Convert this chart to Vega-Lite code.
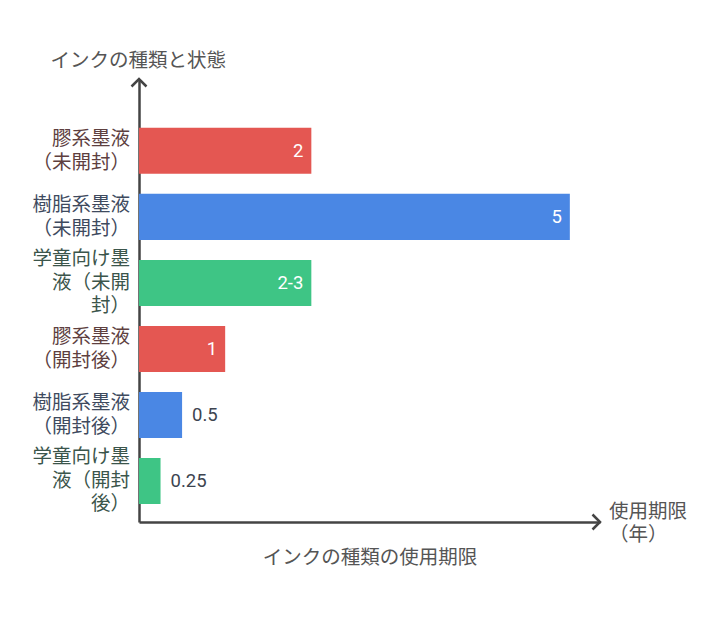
{
  "$schema": "https://vega.github.io/schema/vega-lite/v6.json",
  "width": 461,
  "height": 443,
  "autosize": {"type": "none"},
  "padding": {"left": 139, "top": 79, "right": 116, "bottom": 98},
  "background": "white",
  "config": {"view": {"stroke": null}, "font": "Roboto, 'Noto Sans CJK JP', sans-serif"},
  "data": {"values": [
    {"label": "膠系墨液\n（未開封）", "type": "膠", "value": 2, "disp": "2"},
    {"label": "樹脂系墨液\n（未開封）", "type": "樹脂", "value": 5, "disp": "5"},
    {"label": "学童向け墨\n液（未開\n封）", "type": "学童", "value": 2, "disp": "2-3"},
    {"label": "膠系墨液\n（開封後）", "type": "膠", "value": 1, "disp": "1"},
    {"label": "樹脂系墨液\n（開封後）", "type": "樹脂", "value": 0.5, "disp": "0.5"},
    {"label": "学童向け墨\n液（開封\n後）", "type": "学童", "value": 0.25, "disp": "0.25"}
  ]},
  "layer": [
    {
      "layer": [
        {
          "mark": {"type": "bar"},
          "encoding": {
            "y": {
              "field": "label", "type": "nominal", "sort": null,
              "scale": {"paddingInner": 0.303, "paddingOuter": 0.507, "align": 0.73},
              "axis": {
                "domain": true, "domainColor": "#444", "domainWidth": 2.5,
                "ticks": false, "labels": false, "grid": false,
                "title": "インクの種類と状態", "titleAngle": 0, "titleX": -89, "titleY": -19,
                "titleAlign": "left", "titleBaseline": "middle", "titleFontSize": 19.5,
                "titleFontWeight": "normal", "titleColor": "#555555"
              }
            },
            "x": {
              "field": "value", "type": "quantitative",
              "scale": {"domain": [0, 5.35], "nice": false},
              "axis": {
                "domain": true, "domainColor": "#444", "domainWidth": 2.5,
                "ticks": false, "labels": false, "grid": false,
                "title": "インクの種類の使用期限", "titleFontSize": 19.5, "titleFontWeight": "normal",
                "titleColor": "#555555", "titlePadding": 26
              }
            },
            "color": {
              "field": "type", "type": "nominal",
              "scale": {"domain": ["膠", "樹脂", "学童"], "range": ["#E45752", "#4A87E4", "#3EC585"]},
              "legend": null
            }
          }
        },
        {
          "transform": [{"filter": "length(split(datum.label, '\\n')) == 2"}],
          "mark": {"type": "text", "align": "right", "baseline": "middle", "dx": -9, "dy": -11.75, "fontSize": 19.5, "lineHeight": 23.5, "lineBreak": "\n"},
          "encoding": {
            "y": {"field": "label", "type": "nominal", "sort": null},
            "x": {"datum": 0, "type": "quantitative"},
            "text": {"field": "label"},
            "color": {
              "condition": [
                {"test": "datum.type === '膠'", "value": "#5E3F3F"},
                {"test": "datum.type === '樹脂'", "value": "#3E4A5E"}
              ],
              "value": "#3B554B"
            }
          }
        },
        {
          "transform": [{"filter": "length(split(datum.label, '\\n')) == 3"}],
          "mark": {"type": "text", "align": "right", "baseline": "middle", "dx": -9, "dy": -23.5, "fontSize": 19.5, "lineHeight": 23.5, "lineBreak": "\n"},
          "encoding": {
            "y": {"field": "label", "type": "nominal", "sort": null},
            "x": {"datum": 0, "type": "quantitative"},
            "text": {"field": "label"},
            "color": {
              "condition": [
                {"test": "datum.type === '膠'", "value": "#5E3F3F"},
                {"test": "datum.type === '樹脂'", "value": "#3E4A5E"}
              ],
              "value": "#3B554B"
            }
          }
        },
        {
          "transform": [{"filter": "datum.value >= 1"}],
          "mark": {"type": "text", "align": "right", "baseline": "middle", "dx": -8, "fontSize": 18.5, "color": "white"},
          "encoding": {
            "y": {"field": "label", "type": "nominal", "sort": null},
            "x": {"field": "value", "type": "quantitative"},
            "text": {"field": "disp"}
          }
        },
        {
          "transform": [{"filter": "datum.value < 1"}],
          "mark": {"type": "text", "align": "left", "baseline": "middle", "dx": 10, "fontSize": 18.5, "color": "#3D4450"},
          "encoding": {
            "y": {"field": "label", "type": "nominal", "sort": null},
            "x": {"field": "value", "type": "quantitative"},
            "text": {"field": "disp"}
          }
        }
      ]
    },
    {
      "data": {"values": [{}]},
      "layer": [
        {
          "mark": {"type": "point", "shape": "M -1 -1 L 0 0 L -1 1", "size": 225, "filled": false, "color": "#444", "strokeWidth": 2.5, "opacity": 1},
          "encoding": {
            "x": {"datum": 5.35, "type": "quantitative"},
            "y": {"datum": 0, "type": "quantitative", "scale": {"domain": [0, 1]}, "axis": null}
          }
        },
        {
          "mark": {"type": "point", "shape": "M -1 1 L 0 0 L 1 1", "size": 225, "filled": false, "color": "#444", "strokeWidth": 2.5, "opacity": 1},
          "encoding": {
            "x": {"datum": 0, "type": "quantitative"},
            "y": {"datum": 1, "type": "quantitative", "axis": null}
          }
        },
        {
          "mark": {"type": "text", "text": ["使用期限", "（年）"], "align": "left", "baseline": "middle", "dx": 9, "dy": -10, "fontSize": 19.5, "lineHeight": 23, "color": "#555555"},
          "encoding": {
            "x": {"datum": 5.35, "type": "quantitative"},
            "y": {"datum": 0, "type": "quantitative", "axis": null}
          }
        }
      ]
    }
  ],
  "resolve": {"scale": {"y": "independent"}}
}
